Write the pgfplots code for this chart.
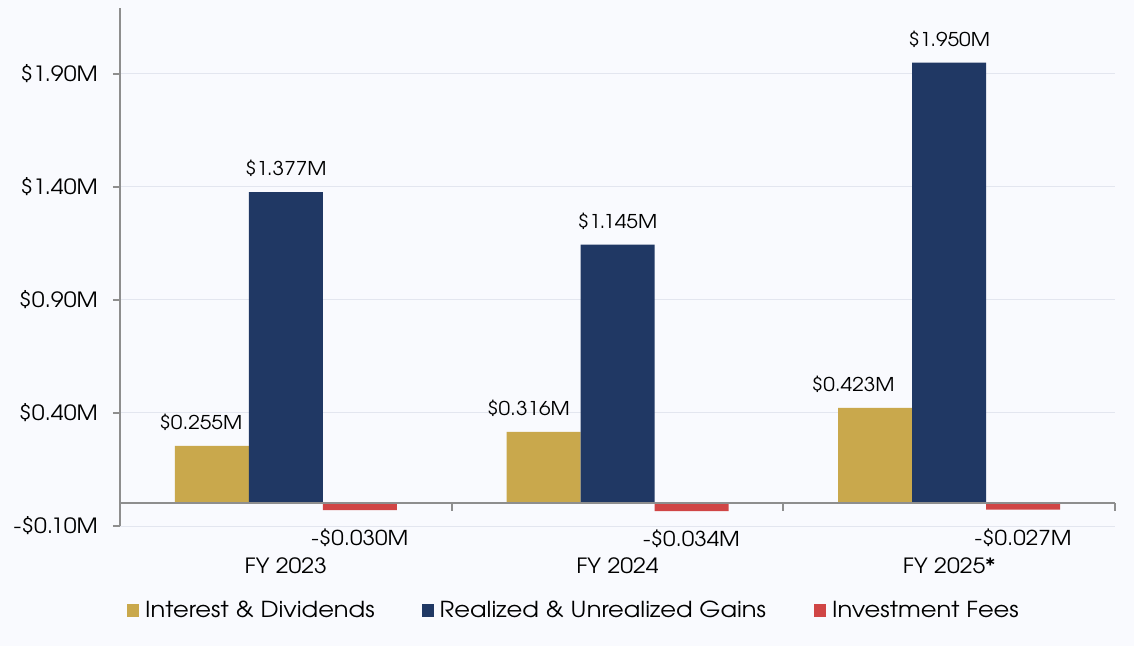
\documentclass[border=0pt]{standalone}
\usepackage{pgfplots}
\pgfplotsset{compat=1.18}
\usepackage{pgfplotstable}
\usepackage{fontspec}
\setmainfont[FakeStretch=1.1]{TeX Gyre Adventor}
\definecolor{bg}{HTML}{F9FAFE}
\definecolor{goldc}{HTML}{C9A84C}
\definecolor{navyc}{HTML}{203864}
\definecolor{redc}{HTML}{D04545}
\definecolor{gridc}{HTML}{E3E6EF}
\definecolor{axc}{HTML}{8E8E8E}

\pgfplotstableread{
x y label dx
0 0.255 \$0.255M -11
1 0.316 \$0.316M -15
2 0.423 \$0.423M -22
}\golddata
\pgfplotstableread{
x y label dx
0 1.377 \$1.377M 0
1 1.145 \$1.145M 0
2 1.950 \$1.950M 0
}\navydata
\pgfplotstableread{
x y label dx
0 -0.030 -\$0.030M 0
1 -0.034 -\$0.034M 0
2 -0.027 -\$0.027M 0
}\reddata

\begin{document}
\fontsize{20}{24}\selectfont
\begin{tikzpicture}
\path[use as bounding box, fill=bg] (0pt,0pt) rectangle (1134pt,646pt);
\begin{axis}[
  at={(120pt,120pt)}, anchor=south west,
  scale only axis, width=995pt, height=518pt,
  xmin=-0.5, xmax=2.5, ymin=-0.10, ymax=2.192,
  clip=false,
  axis y line*=left, axis x line*=bottom,
  x axis line style={draw=none},
  y axis line style={draw=axc, line width=2pt, -},
  xtick={0,1,2}, xticklabels={FY 2023, FY 2024, FY 2025*},
  xtick style={draw=none},
  xticklabel style={anchor=base, yshift=-40pt, inner sep=0pt, font=\fontsize{21}{24}\selectfont},
  ytick={-0.1,0.4,0.9,1.4,1.9},
  yticklabels={-\$0.10M,\$0.40M,\$0.90M,\$1.40M,\$1.90M},
  yticklabel style={anchor=east, inner sep=0pt, xshift=-15pt, font=\fontsize{21}{24}\selectfont},
  ytick style={draw=axc, line width=2pt},
  tick align=outside, major tick length=7pt,
  ymajorgrids, major grid style={draw=gridc, line width=1pt},
  ybar=0pt, bar width=74pt,
  point meta=explicit symbolic,
  nodes near coords,
  visualization depends on={\thisrow{dx} \as \dx},
  every node near coord/.append style={anchor=base, inner sep=0pt, text=black, font=\fontsize{19}{24}\selectfont},
  legend columns=3,
  legend style={draw=none, fill=none, inner sep=0pt, at={(axis description cs:0.00704,-0.1631)}, anchor=west, nodes={inner sep=0pt, anchor=west}, font=\fontsize{22}{26}\selectfont},
  legend image code/.code={\fill[#1] (0pt,-6.5pt) rectangle (12pt,6.5pt); \path (18pt,0pt);},
]
\addplot[fill=goldc, draw=none, nodes near coords style={xshift=\dx pt, yshift=16.5pt}] table[x=x, y=y, meta=label] {\golddata};
\addlegendentry{Interest \& Dividends\hspace*{47pt}}
\addplot[fill=navyc, draw=none, nodes near coords style={xshift=\dx pt, yshift=16.5pt}] table[x=x, y=y, meta=label] {\navydata};
\addlegendentry{Realized \& Unrealized Gains\hspace*{48pt}}
\addplot[fill=redc, draw=none, nodes near coords style={anchor=base, yshift=-35.5pt, font=\fontsize{20.5}{24}\selectfont}] table[x=x, y=y, meta=label] {\reddata};
\addlegendentry{Investment Fees}
\draw[axc, line width=2pt] (axis cs:-0.5,0) -- (axis cs:2.5,0);
\draw[axc, line width=2pt] (axis cs:0.5,0) -- ++(0pt,-8pt);
\draw[axc, line width=2pt] (axis cs:1.5,0) -- ++(0pt,-8pt);
\draw[axc, line width=2pt] (axis cs:2.5,0) -- ++(0pt,-8pt);
\end{axis}
\end{tikzpicture}
\end{document}
